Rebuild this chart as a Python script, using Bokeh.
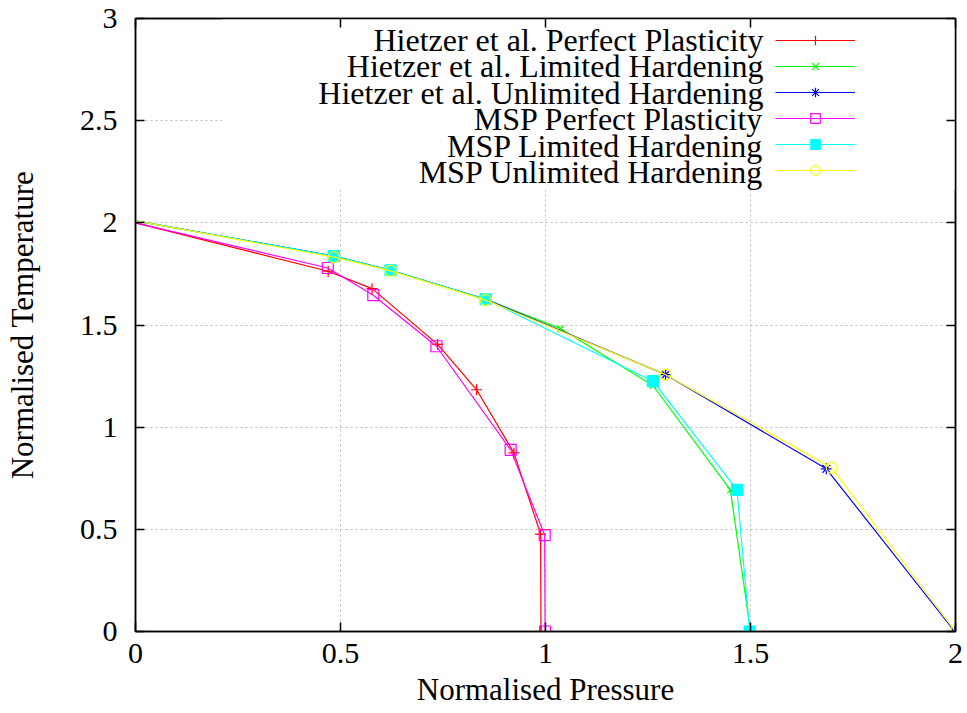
from bokeh.plotting import figure
from bokeh.models import (Range1d, LinearAxis, FixedTicker, Legend, LegendItem, Label,
                          BoxAnnotation, CustomLabelingPolicy)
from bokeh.embed import file_html
from bokeh.resources import INLINE

# ---------------- data ----------------
x_ticks = [0, 0.5, 1, 1.5, 2]
x_tick_labels = ["0", "0.5", "1", "1.5", "2"]
y_ticks = [0, 0.5, 1, 1.5, 2, 2.5, 3]
y_tick_labels = ["0", "0.5", "1", "1.5", "2", "2.5", "3"]

x_title = "Normalised Pressure"
y_title = "Normalised Temperature"

series_names = [
    "Hietzer et al. Perfect Plasticity",
    "Hietzer et al. Limited Hardening",
    "Hietzer et al. Unlimited Hardening",
    "MSP Perfect Plasticity",
    "MSP Limited Hardening",
    "MSP Unlimited Hardening",
]

hpp_x = [0.0, 0.470, 0.577, 0.737, 0.832, 0.923, 0.988, 0.989]
hpp_y = [2.00, 1.763, 1.678, 1.405, 1.183, 0.874, 0.477, 0.0]

hlh_x = [0.0, 0.484, 0.622, 0.854, 1.037, 1.262, 1.451, 1.500]
hlh_y = [2.01, 1.837, 1.768, 1.626, 1.482, 1.204, 0.693, 0.0]

huh_x = [0.0, 0.484, 0.622, 0.854, 1.293, 1.685, 1.998]
huh_y = [2.01, 1.837, 1.768, 1.626, 1.257, 0.796, 0.0]

mpp_x = [0.0, 0.469, 0.580, 0.734, 0.915, 0.998, 0.999]
mpp_y = [2.00, 1.779, 1.646, 1.396, 0.889, 0.472, 0.0]

mlh_x = [0.0, 0.484, 0.622, 0.854, 1.262, 1.467, 1.498]
mlh_y = [2.01, 1.837, 1.768, 1.626, 1.225, 0.693, 0.0]

muh_x = [0.0, 0.484, 0.622, 0.854, 1.293, 1.698, 2.000]
muh_y = [2.01, 1.832, 1.765, 1.622, 1.257, 0.801, 0.0]

# ---------------- styles ----------------
FONT = "Liberation Serif"
TICK_FS = "30px"
AXIS_FS = "31px"
KEY_FS = "32px"

FRAME_L, FRAME_R, FRAME_T, FRAME_B = 135, 955, 18, 631
X0, X1, Y0, Y1 = 0, 2, 0, 3

def sx2dx(sx):
    return X0 + (sx - FRAME_L) / (FRAME_R - FRAME_L) * (X1 - X0)

def sy2dy(sy):
    return Y0 + (FRAME_B - sy) / (FRAME_B - FRAME_T) * (Y1 - Y0)

p = figure(width=967, height=713, output_backend="svg", toolbar_location=None,
           x_range=Range1d(X0, X1), y_range=Range1d(Y0, Y1),
           min_border_left=FRAME_L, min_border_right=967 - FRAME_R,
           min_border_top=FRAME_T, min_border_bottom=713 - FRAME_B,
           x_axis_label=x_title, y_axis_label=y_title)

p.outline_line_color = "black"
p.outline_line_width = 1.5
p.background_fill_color = "white"
p.border_fill_color = "white"

xt = FixedTicker(ticks=x_ticks)
yt = FixedTicker(ticks=y_ticks)

for ax in p.xaxis:
    ax.ticker = xt
    ax.major_label_overrides = {t: l for t, l in zip(x_ticks, x_tick_labels)}
    ax.major_label_standoff = 12
    ax.axis_label_standoff = 6
for ax in p.yaxis:
    ax.ticker = yt
    ax.major_label_overrides = {t: l for t, l in zip(y_ticks, y_tick_labels)}
    ax.major_label_standoff = 18
    ax.axis_label_standoff = 37

for ax in list(p.xaxis) + list(p.yaxis):
    ax.major_tick_in = 9
    ax.major_tick_out = 0
    ax.minor_tick_line_color = None
    ax.axis_line_color = "black"
    ax.axis_line_width = 1.5
    ax.major_tick_line_color = "black"
    ax.major_tick_line_width = 1.5
    ax.major_label_text_font = FONT
    ax.major_label_text_font_size = TICK_FS
    ax.major_label_text_color = "black"
    ax.axis_label_text_font = FONT
    ax.axis_label_text_font_size = AXIS_FS
    ax.axis_label_text_font_style = "normal"
    ax.axis_label_text_color = "black"

no_labels = CustomLabelingPolicy(code="""
const all = Array.from(indices)
for (const i of all) { indices.unset(i) }
return indices
""")

top_ax = LinearAxis(ticker=xt, major_label_text_font_size="0px", major_label_standoff=0,
                    major_label_policy=no_labels,
                    major_tick_in=9, major_tick_out=0, minor_tick_line_color=None,
                    axis_line_color="black", axis_line_width=1.5, major_tick_line_width=1.5)
right_ax = LinearAxis(ticker=yt, major_label_text_font_size="0px", major_label_standoff=0,
                      major_label_policy=no_labels,
                      major_tick_in=9, major_tick_out=0, minor_tick_line_color=None,
                      axis_line_color="black", axis_line_width=1.5, major_tick_line_width=1.5)
p.add_layout(top_ax, "above")
p.add_layout(right_ax, "right")

p.xgrid.ticker = xt
p.ygrid.ticker = yt
for g in (p.xgrid, p.ygrid):
    g.grid_line_color = "#bdbdbd"
    g.grid_line_dash = "2 3"
    g.grid_line_width = 1

# opaque key area hides the grid behind the legend
key_box = BoxAnnotation(left=sx2dx(222), right=X1, bottom=sy2dy(189), top=Y1,
                        fill_color="white", fill_alpha=1.0, line_color=None, level="underlay")
p.add_layout(key_box)

series = [
    (hpp_x, hpp_y, "#ff0000", "cross", "#ff0000", 11),
    (hlh_x, hlh_y, "#00ff00", "x", "#00ff00", 9),
    (huh_x, huh_y, "#0000ff", "asterisk", "#0000ff", 11),
    (mpp_x, mpp_y, "#ff00ff", "square", None, 11),
    (mlh_x, mlh_y, "#00ffff", "square", "#00ffff", 11),
    (muh_x, muh_y, "#ffff00", "circle", None, 11),
]

items = []
for (xs, ys, col, mk, fill, sz), name in zip(series, series_names):
    lr = p.line(xs, ys, line_color=col, line_width=1.2)
    sr = p.scatter(xs[1:], ys[1:], marker=mk, size=sz, line_color=col,
                   fill_color=fill, line_width=1.2)
    items.append(LegendItem(label=" ", renderers=[lr, sr]))

GH, GSP = 24, 2
KEY_TOP = 28
legend = Legend(items=items, location=(775 - FRAME_L, FRAME_B - KEY_TOP - 6 * GH - 5 * GSP),
                glyph_width=80, glyph_height=GH, spacing=GSP, padding=0, margin=0,
                label_width=0, label_standoff=0, label_text_font_size="1px",
                border_line_color=None, background_fill_alpha=0)
p.add_layout(legend)

for i, name in enumerate(series_names):
    p.add_layout(Label(x=sx2dx(763), y=sy2dy(39.5 + i * 26.4), text=name,
                       text_align="right", text_baseline="middle",
                       text_font=FONT, text_font_size=KEY_FS, text_color="black"))

open("out.html", "w").write(file_html(p, INLINE))
